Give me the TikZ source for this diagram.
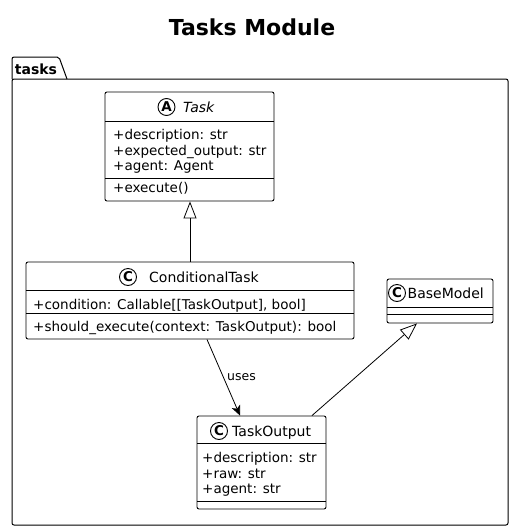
\documentclass[tikz,border=0pt]{standalone}
\usepackage{fontspec}
\setmainfont{DejaVu Sans}
\usetikzlibrary{arrows.meta}
\tikzset{classbox/.style = {draw, rounded corners = 2pt, line width = 0.9pt, inner sep = 0pt}}
\tikzset{icon/.style = {shape = circle, draw, line width = 0.9pt, minimum size = 17pt, inner sep = 0pt, font = \bfseries\fontsize{13.5}{13.5}\selectfont}}
\tikzset{classname/.style = {anchor = base west, inner sep = 0pt, font = \fontsize{14}{16}\selectfont}}
\tikzset{member/.style = {anchor = base west, inner sep = 0pt, font = \fontsize{13.5}{16}\selectfont}}
\tikzset{sep/.style = {line width = 0.9pt}}
\tikzset{extends/.style = {-{Triangle[open, length = 17pt, width = 13pt]}, line width = 0.8pt}}
\tikzset{uses/.style = {-{Stealth[length = 10pt, width = 9pt, inset = 2.5pt]}, line width = 0.8pt}}

\begin{document}
\begin{tikzpicture}[x = 1pt, y = -1pt]
	\useasboundingbox (0, 0) rectangle (514, 531);
	\node[anchor = base, font = \bfseries\fontsize{22}{24}\selectfont] (title) at (252, 35) {Tasks Module};

	% package
	\draw[line width = 1pt, rounded corners = 2pt] (12, 79) -- (12, 57) -- (59, 57) -- (67, 79);
	\draw[line width = 1pt, rounded corners = 2pt] (12, 79) -- (508, 79) -- (508, 525) -- (12, 525) -- cycle;
	\node[anchor = base, inner sep = 0pt, font = \bfseries\fontsize{14}{16}\selectfont] (pkg) at (36, 74) {tasks};

	% Task
	\node[classbox, minimum width = 169pt, minimum height = 109pt] (task) at (189.5, 146.5) {};
	\draw[sep] (105, 121) -- (274, 121);
	\draw[sep] (105, 178) -- (274, 178);
	\node[icon] (taskicon) at (166.5, 107) {A};
	\node[classname, font = \itshape\fontsize{14}{16}\selectfont] (taskname) at (183, 112) {Task};
	\node[member] (taskattr1) at (113, 139.5) {+description: str};
	\node[member] (taskattr2) at (113, 155) {+expected\_output: str};
	\node[member] (taskattr3) at (113, 170.5) {+agent: Agent};
	\node[member] (taskop1) at (113, 192) {+execute()};

	% ConditionalTask
	\node[classbox, minimum width = 328pt, minimum height = 77pt] (condtask) at (190, 300.5) {};
	\draw[sep] (26, 290) -- (354, 290);
	\draw[sep] (26, 313) -- (354, 313);
	\node[icon] (condicon) at (128, 277) {C};
	\node[classname] (condname) at (149, 282) {ConditionalTask};
	\node[member] (condattr1) at (33, 309) {+condition: Callable[[TaskOutput], bool]};
	\node[member] (condop1) at (33, 331.5) {+should\_execute(context: TaskOutput): bool};

	% BaseModel
	\node[classbox, minimum width = 106pt, minimum height = 44pt] (basemodel) at (440, 301) {};
	\draw[sep] (387, 307) -- (493, 307);
	\draw[sep] (387, 314) -- (493, 314);
	\node[icon] (baseicon) at (397, 293) {C};
	\node[classname] (basename) at (407.5, 298) {BaseModel};

	% TaskOutput
	\node[classbox, minimum width = 129pt, minimum height = 93pt] (taskoutput) at (261.5, 462.5) {};
	\draw[sep] (197, 443) -- (326, 443);
	\draw[sep] (197, 501) -- (326, 501);
	\node[icon] (outicon) at (219, 431) {C};
	\node[classname] (outname) at (232, 436) {TaskOutput};
	\node[member] (outattr1) at (202, 462.5) {+description: str};
	\node[member] (outattr2) at (202, 478) {+raw: str};
	\node[member] (outattr3) at (202, 493.5) {+agent: str};

	\draw[extends] (condtask.north) -- (condtask.north |- task.south);
	\draw[uses] ([xshift = 17pt]condtask.south) -- node[right, font = \fontsize{12.5}{14}\selectfont] {uses} ([xshift = -21.5pt]taskoutput.north);
	\draw[extends] ([xshift = 50.5pt]taskoutput.north) -- ([xshift = -23pt]basemodel.south);
\end{tikzpicture}
\end{document}
